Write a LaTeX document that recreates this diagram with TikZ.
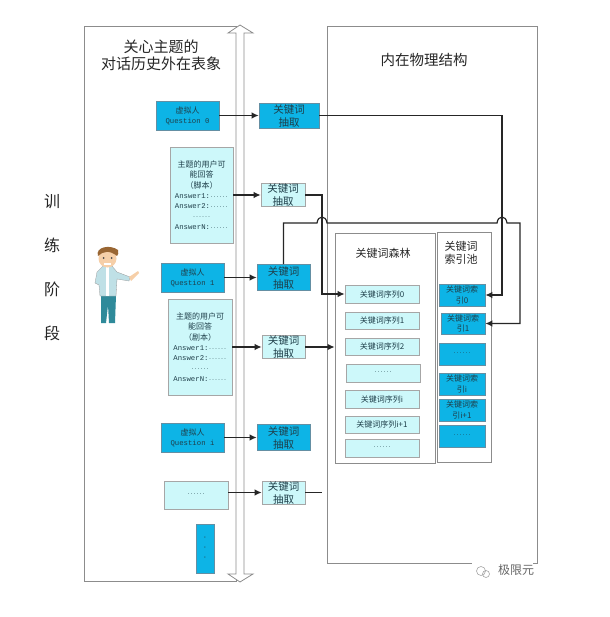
\documentclass[tikz,border=0pt]{standalone}
\usepackage{fontspec}
\setmainfont{Noto Sans CJK SC}
\setmonofont{Liberation Mono}
\usetikzlibrary{arrows.meta}
\definecolor{kwblue}{HTML}{0DB4E6}
\definecolor{kwcyan}{HTML}{CDF8FA}
\definecolor{kwtext}{HTML}{1F3F4A}
\definecolor{shirtblue}{HTML}{BFE0E6}
\definecolor{trouser}{HTML}{2F8A9A}
\definecolor{skin}{HTML}{F6CFA8}
\newcommand{\sixdots}{{\ttfamily\fontsize{5}{10}\selectfont ······}}
\newcommand{\monotxt}[1]{{\ttfamily\fontsize{7.3}{10.3}\selectfont #1}}
\tikzset{
    panel/.style={draw=black!45,line width=0.8pt,fill=white},
    bluebox/.style={draw=cyan!50!black!80,line width=0.7pt,fill=kwblue,text=kwtext,inner sep=0pt,align=center},
    cyanbox/.style={draw=black!35,line width=0.7pt,fill=kwcyan,text=kwtext,inner sep=0pt,align=center},
    extfont/.style={font=\fontsize{10.5}{13}\selectfont},
    smallfont/.style={font=\fontsize{8}{10.3}\selectfont},
    wire/.style={draw=black!85,line width=1.2pt},
    flow/.style={wire,-{Latex[length=7pt,width=6.5pt]}},
}
\begin{document}
\begin{tikzpicture}[x=1pt,y=-1pt]
    \useasboundingbox (0,0) rectangle (609,617);
    \fill[white] (0,0) rectangle (609,617);
    \draw[panel] (84,26) rectangle (236,581);
    \draw[panel] (327,26) rectangle (537,563);
    \draw[panel] (236,33) -- (228,33) -- (240,25) -- (253,33) -- (244,33) -- (244,574) -- (253,574) -- (240,582) -- (228,574) -- (236,574) -- cycle;

    \node[font=\fontsize{15}{17}\selectfont,align=center,text=black!85] (leftTitle) at (161,55.5) {关心主题的\\对话历史外在表象};
    \node[font=\fontsize{14.5}{17}\selectfont,text=black!85] (rightTitle) at (424,60) {内在物理结构};
    \node[font=\fontsize{16}{44}\selectfont,align=center,text=black!85] (stage) at (52,267.5) {训\\练\\阶\\段};

    \node[bluebox,smallfont,minimum width=63pt,minimum height=29pt] (questA) at (187.5,115.5) {虚拟人\\\monotxt{Question 0}};
    \node[bluebox,extfont,minimum width=60pt,minimum height=25pt] (extA) at (289,115.5) {关键词\\抽取};
    \node[cyanbox,smallfont,minimum width=63pt,minimum height=96pt] (ansA) at (201.5,195) {主题的用户可\\能回答\\（脚本）\\\monotxt{Answer1:}\sixdots\\\monotxt{Answer2:}\sixdots\\\sixdots\\\monotxt{AnswerN:}\sixdots};
    \node[cyanbox,extfont,minimum width=44pt,minimum height=22pt] (extB) at (283,195) {关键词\\抽取};
    \node[bluebox,smallfont,minimum width=63pt,minimum height=29pt] (questB) at (192.5,277.5) {虚拟人\\\monotxt{Question 1}};
    \node[bluebox,extfont,minimum width=53pt,minimum height=26pt] (extC) at (283.5,277.5) {关键词\\抽取};
    \node[cyanbox,smallfont,minimum width=64pt,minimum height=96pt] (ansB) at (200,347) {主题的用户可\\能回答\\（剧本）\\\monotxt{Answer1:}\sixdots\\\monotxt{Answer2:}\sixdots\\\sixdots\\\monotxt{AnswerN:}\sixdots};
    \node[cyanbox,extfont,minimum width=43pt,minimum height=23pt] (extD) at (283.5,347) {关键词\\抽取};
    \node[bluebox,smallfont,minimum width=63pt,minimum height=29pt] (questC) at (192.5,437.5) {虚拟人\\\monotxt{Question i}};
    \node[bluebox,extfont,minimum width=53pt,minimum height=26pt] (extE) at (283.5,437.5) {关键词\\抽取};
    \node[cyanbox,smallfont,minimum width=64pt,minimum height=28pt] (ansC) at (196,495) {\sixdots};
    \node[cyanbox,extfont,minimum width=43pt,minimum height=23pt] (extF) at (283.5,492.5) {关键词\\抽取};
    \node[bluebox,font=\ttfamily\fontsize{7}{10}\selectfont,minimum width=18pt,minimum height=49pt] (questD) at (205,548.5) {·\\·\\·};

    \node[panel,minimum width=100pt,minimum height=230pt] (forest) at (385,348) {};
    \node[panel,minimum width=54pt,minimum height=230pt] (pool) at (464,347) {};
    \node[font=\fontsize{11}{13}\selectfont,text=black!85] (forestTitle) at (383,253) {关键词森林};
    \node[font=\fontsize{11}{13}\selectfont,align=center,text=black!85] (poolTitle) at (461,253) {关键词\\索引池};

    \node[cyanbox,smallfont,minimum width=74pt,minimum height=18pt] (seqA) at (382,294) {关键词序列0};
    \node[cyanbox,smallfont,minimum width=74pt,minimum height=17pt] (seqB) at (382,320.5) {关键词序列1};
    \node[cyanbox,smallfont,minimum width=74pt,minimum height=17pt] (seqC) at (382,346.5) {关键词序列2};
    \node[cyanbox,smallfont,minimum width=74pt,minimum height=18pt] (seqD) at (383,373) {\sixdots};
    \node[cyanbox,smallfont,minimum width=74pt,minimum height=18pt] (seqE) at (382,399) {关键词序列i};
    \node[cyanbox,smallfont,minimum width=74pt,minimum height=17pt] (seqF) at (382,424.5) {关键词序列i+1};
    \node[cyanbox,smallfont,minimum width=74pt,minimum height=18pt] (seqG) at (382,448) {\sixdots};

    \node[bluebox,smallfont,minimum width=46pt,minimum height=22pt] (poolA) at (462,295) {关键词索\\引0};
    \node[bluebox,smallfont,minimum width=44pt,minimum height=21pt] (poolB) at (463,323.5) {关键词索\\引1};
    \node[bluebox,smallfont,minimum width=46pt,minimum height=22pt] (poolC) at (462,354) {\sixdots};
    \node[bluebox,smallfont,minimum width=46pt,minimum height=22pt] (poolD) at (462,384) {关键词索\\引i};
    \node[bluebox,smallfont,minimum width=46pt,minimum height=22pt] (poolE) at (462,410) {关键词索\\引i+1};
    \node[bluebox,smallfont,minimum width=46pt,minimum height=22pt] (poolF) at (462,436) {\sixdots};

    \coordinate (hopL) at (322,223);
    \coordinate (hopR) at (502,223);
    \coordinate (turnC) at (520,323.5);
    \coordinate (stubF) at (322,492.5);

    \draw[flow] (questA) -- (extA);
    \draw[flow] (ansA) -- (extB);
    \draw[flow] (questB) -- (extC);
    \draw[flow] (ansB) -- (extD);
    \draw[flow] (questC) -- (extE);
    \draw[flow] (ansC.east |- extF) -- (extF);
    \draw[wire] (extF) -- (stubF);
    \draw[flow] (extD) -- (forest.west |- extD);
    \draw[flow] (extA) -| (hopR |- poolA) -- (poolA);
    \draw[flow] (extB) -| (hopL |- seqA) -- (seqA);
    \draw[flow] (extC) |- ([xshift=-5pt]hopL) .. controls ([xshift=-4pt,yshift=8pt]hopL) and ([xshift=4pt,yshift=8pt]hopL) .. ([xshift=5pt]hopL) -- ([xshift=-5pt]hopR) .. controls ([xshift=-4pt,yshift=8pt]hopR) and ([xshift=4pt,yshift=8pt]hopR) .. ([xshift=5pt]hopR) -| (turnC) -- (poolB);

    \fill[trouser] (101,295) -- (116,295) -- (115,323) -- (109,323) -- (108,305) -- (106,323) -- (101,323) -- cycle;
    \fill[shirtblue,draw=black!40,line width=0.3pt] (97,272) -- (103,266) -- (112,266) -- (117,272) -- (130,277) -- (129,281) -- (117,279) -- (116,296) -- (100,296) -- (99,285) -- (95,283) -- cycle;
    \fill[skin] (129,277) -- (138,271) -- (139,273) -- (131,281) -- cycle;
    \fill[white] (106,266) rectangle (109,296);
    \fill[skin] (107.5,258.5) circle (9);
    \fill[brown!80!black] (98,256) .. controls (95,247) and (110,244) .. (118,250) .. controls (119,253) and (118,255) .. (117,256) .. controls (110,250) and (103,251) .. (98,256) -- cycle;
    \fill[black!70] (103.5,258) circle (1) (111.5,258) circle (1);
    \fill[white] (104,263) rectangle (111,265);

    \fill[white] (472,558) rectangle (540,579);
    \draw[black!45,line width=0.8pt] (537,555) -- (537,563) -- (533,563);
    \draw[black!35,line width=0.6pt] (481,571) circle (4.5) (486,574) circle (3.5);
    \node[font=\fontsize{12}{14}\selectfont,text=black!60] (mark) at (516,570) {极限元};
\end{tikzpicture}
\end{document}
